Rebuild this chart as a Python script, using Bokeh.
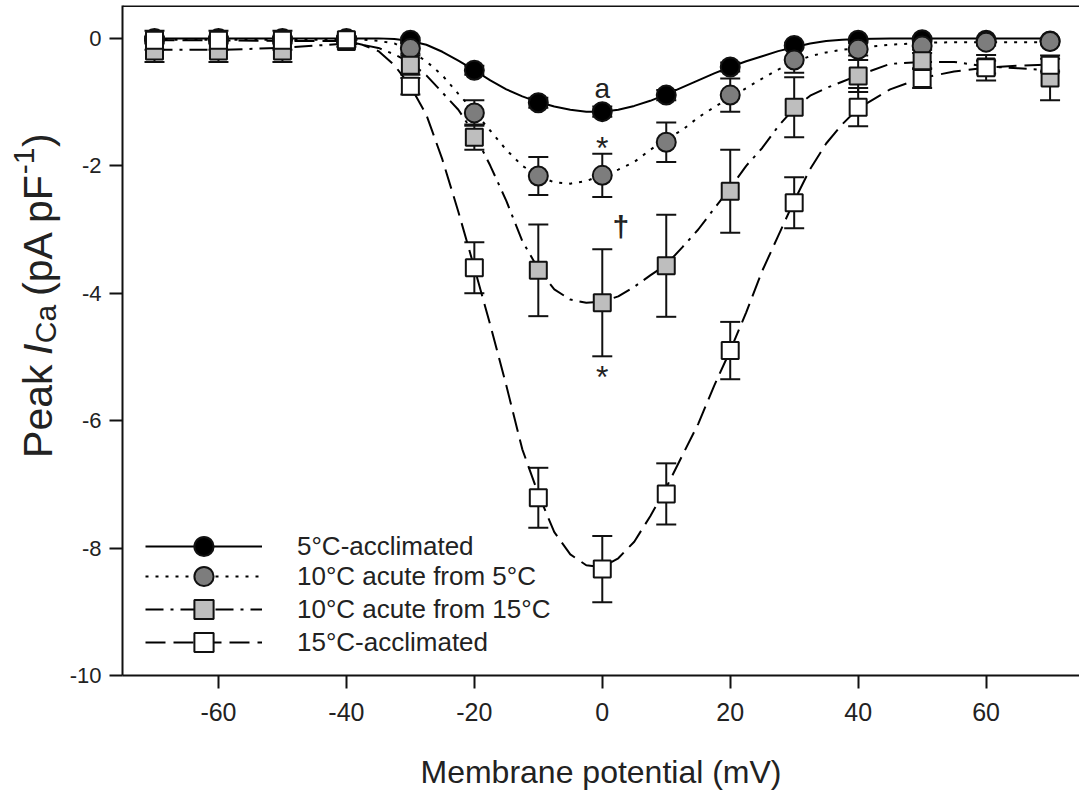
import math
from bokeh.plotting import figure
from bokeh.layouts import row
from bokeh.models import (Range1d, FixedTicker, Whisker, TeeHead, ColumnDataSource,
                          Legend, LegendItem, Label, Span)
from bokeh.core.properties import value
from bokeh.embed import file_html
from bokeh.resources import INLINE

# ---------------- data ----------------
volt = [-70, -60, -50, -40, -30, -20, -10, 0, 10, 20, 30, 40, 50, 60, 70]

acc5_mean = [0.0, 0.0, 0.0, 0.0, -0.03, -0.5, -1.01, -1.15, -0.89, -0.45, -0.11, -0.03, -0.02, -0.03, -0.04]
acc5_err = [0.03, 0.03, 0.03, 0.03, 0.04, 0.07, 0.08, 0.08, 0.08, 0.07, 0.04, 0.03, 0.03, 0.03, 0.03]

acute5_mean = [-0.03, -0.03, -0.03, -0.02, -0.16, -1.17, -2.16, -2.15, -1.63, -0.89, -0.34, -0.17, -0.12, -0.06, -0.05]
acute5_err = [0.05, 0.05, 0.05, 0.04, 0.08, 0.2, 0.3, 0.34, 0.31, 0.26, 0.2, 0.1, 0.06, 0.05, 0.04]

acute15_mean = [-0.2, -0.2, -0.2, -0.05, -0.42, -1.55, -3.64, -4.15, -3.57, -2.4, -1.08, -0.59, -0.35, -0.45, -0.62]
acute15_err = [0.17, 0.17, 0.17, 0.08, 0.15, 0.2, 0.72, 0.84, 0.8, 0.65, 0.47, 0.25, 0.12, 0.1, 0.35]

acc15_mean = [-0.03, -0.03, -0.03, -0.02, -0.75, -3.6, -7.21, -8.33, -7.15, -4.9, -2.58, -1.08, -0.63, -0.46, -0.42]
acc15_err = [0.15, 0.15, 0.15, 0.05, 0.13, 0.4, 0.47, 0.52, 0.48, 0.45, 0.4, 0.3, 0.15, 0.2, 0.1]

# fitted curves
curve_x = [-70, -60, -50, -40, -37.5, -35, -32.5, -30, -27.5, -25, -22.5, -20, -17.5, -15, -12.5,
           -10, -7.5, -5, -2.5, 0, 2.5, 5, 7.5, 10, 12.5, 15, 17.5, 20, 22.5, 25, 27.5, 30,
           32.5, 35, 37.5, 40, 45, 50, 55, 60, 65, 70]
curve_acc5 = [0.0, 0.0, 0.0, 0.0, 0.0, 0.0, -0.01, -0.04, -0.1, -0.21, -0.35, -0.5, -0.66, -0.8, -0.91,
              -1.0, -1.07, -1.12, -1.15, -1.15, -1.12, -1.06, -0.98, -0.88, -0.77, -0.66, -0.55, -0.45,
              -0.36, -0.28, -0.2, -0.14, -0.08, -0.04, -0.02, -0.01, 0.0, 0.0, 0.0, 0.0, 0.0, 0.0]
curve_acute5 = [-0.02, -0.02, -0.02, -0.02, -0.02, -0.04, -0.08, -0.2, -0.36, -0.58, -0.87, -1.15, -1.45,
                -1.75, -2.0, -2.16, -2.26, -2.28, -2.24, -2.14, -2.06, -1.94, -1.75, -1.58, -1.44, -1.24,
                -1.08, -0.93, -0.78, -0.63, -0.49, -0.37, -0.28, -0.22, -0.18, -0.15, -0.1, -0.07, -0.06,
                -0.06, -0.06, -0.06]
curve_acute15 = [-0.18, -0.18, -0.15, -0.08, -0.1, -0.15, -0.25, -0.38, -0.58, -0.85, -1.12, -1.5, -2.0,
                 -2.55, -3.18, -3.62, -3.94, -4.1, -4.15, -4.13, -4.05, -3.9, -3.72, -3.55, -3.28, -3.0,
                 -2.67, -2.35, -2.0, -1.72, -1.38, -1.1, -0.9, -0.78, -0.68, -0.58, -0.4, -0.37, -0.37,
                 -0.44, -0.47, -0.5]
curve_acc15 = [-0.03, -0.03, -0.04, -0.04, -0.1, -0.2, -0.42, -0.75, -1.2, -1.9, -2.72, -3.6, -4.5,
               -5.45, -6.45, -7.15, -7.75, -8.1, -8.27, -8.3, -8.16, -7.9, -7.5, -7.05, -6.55, -6.05,
               -5.45, -4.9, -4.3, -3.65, -3.1, -2.55, -2.05, -1.65, -1.35, -1.1, -0.8, -0.62, -0.52,
               -0.46, -0.43, -0.41]

series_names = ["5°C-acclimated", "10°C acute from 5°C", "10°C acute from 15°C", "15°C-acclimated"]
x_ticks = [-60, -40, -20, 0, 20, 40, 60]
x_tick_labels = ["-60", "-40", "-20", "0", "20", "40", "60"]
y_ticks = [-10, -8, -6, -4, -2, 0]
y_tick_labels = ["-10", "-8", "-6", "-4", "-2", "0"]

FONT = "Liberation Sans"
TXT = "#222222"
INK = "#111111"
W, H = 1079, 792
LW = 64  # width of the strip holding the y-axis title

p = figure(width=W - LW, height=H, output_backend="svg", toolbar_location=None,
           x_range=Range1d(-75, 74.6), y_range=Range1d(-10, 0.516),
           min_border_left=122 - LW, min_border_right=0, min_border_top=5, min_border_bottom=114)
p.outline_line_color = None
p.grid.visible = False

for ax in (p.xaxis, p.yaxis):
    ax.axis_line_width = 2
    ax.axis_line_color = INK
    ax.major_tick_line_width = 2
    ax.major_tick_line_color = INK
    ax.major_tick_in = 0
    ax.major_tick_out = 13
    ax.minor_tick_line_color = None
    ax.major_label_text_font = FONT
    ax.major_label_text_color = TXT

p.xaxis.ticker = FixedTicker(ticks=x_ticks)
p.yaxis.ticker = FixedTicker(ticks=y_ticks)
p.xaxis.major_label_overrides = dict(zip(x_ticks, x_tick_labels))
p.yaxis.major_label_overrides = dict(zip(y_ticks, y_tick_labels))
p.xaxis.major_label_text_font_size = "25px"
p.yaxis.major_label_text_font_size = "22px"
p.xaxis.major_label_standoff = 14
p.yaxis.major_label_standoff = 8
p.xaxis.axis_label = "Membrane potential (mV)"
p.xaxis.axis_label_text_font = FONT
p.xaxis.axis_label_text_font_size = "32px"
p.xaxis.axis_label_text_font_style = "normal"
p.xaxis.axis_label_text_color = TXT
p.xaxis.axis_label_standoff = 30

p.add_layout(Span(location=0.516, dimension="width", line_color=INK, line_width=3))

# curves
dashes = ["solid", "3 7", "18 7 3 7", "20 8"]
curves = [curve_acc5, curve_acute5, curve_acute15, curve_acc15]
line_rs = []
for cy, dsh in zip(curves, dashes):
    line_rs.append(p.line(curve_x, cy, line_color="black", line_width=2, line_dash=dsh))

means = [acc5_mean, acute5_mean, acute15_mean, acc15_mean]
errs = [acc5_err, acute5_err, acute15_err, acc15_err]
fills = ["black", "#7d7d7d", "#bebebe", "white"]
markers = ["circle", "circle", "square", "square"]
sizes = [19, 19, 17, 17]

for m, e in zip(means, errs):
    src = ColumnDataSource(dict(x=volt, upper=[a + b for a, b in zip(m, e)],
                                lower=[a - b for a, b in zip(m, e)]))
    p.add_layout(Whisker(source=src, base="x", upper="upper", lower="lower", line_width=2, line_color=INK,
                         upper_head=TeeHead(size=20, line_width=2, line_color=INK),
                         lower_head=TeeHead(size=20, line_width=2, line_color=INK)))

scat_rs = []
for m, f, mk, s in zip(means, fills, markers, sizes):
    scat_rs.append(p.scatter(volt, m, marker=mk, size=s, fill_color=f, line_color=INK, line_width=2))

# one legend per row so rows can sit close together with full-size markers
row_offsets = [105, 75, 42, 9]
for name, l, s, off in zip(series_names, line_rs, scat_rs, row_offsets):
    p.add_layout(Legend(items=[LegendItem(label=name, renderers=[l, s])],
                        location=(23, off), glyph_width=117, glyph_height=48, label_height=48,
                        padding=0, margin=0, label_standoff=35,
                        label_text_font=FONT, label_text_font_size="26px", label_text_color=TXT,
                        border_line_color=None, background_fill_alpha=0))

# significance marks
for tx, ty, t, fs, st in [(0, -0.78, "a", "28px", "normal"), (0, -1.72, "*", "32px", "normal"),
                          (0, -5.32, "*", "32px", "normal"), (2.9, -2.95, "†", "30px", "bold")]:
    p.add_layout(Label(x=tx, y=ty, text=t, text_align="center", text_baseline="middle",
                       text_font=FONT, text_font_size=fs, text_font_style=st, text_color=TXT))

# ---------- y-axis title strip (rich text built from pieces) ----------
# the strip's frame ends 100 px above the bottom of its canvas, so its y range starts at 100
q = figure(width=LW, height=H, output_backend="svg", toolbar_location=None,
           x_range=Range1d(0, LW), y_range=Range1d(100, H), x_axis_type=None, y_axis_type=None,
           min_border=0)
q.outline_line_color = None
q.grid.visible = False

F = 41
mid_x = 37          # centre line of the rotated title (pixels from the left edge)
centre_y = H - 299  # centre of the title along its length (pixels from the bottom)
# (text, size factor, style, shift across the line, advance in em, lead gap in em)
pieces = [("Peak", 1.0, "normal", 0, 2.279, 0.0),
          ("I", 1.0, "italic", 0, 0.278, 0.278),
          ("Ca", 0.75, "normal", 8, 0.958, 0.02),
          ("(pA pF", 1.0, "normal", 0, 3.001, 0.278),
          ("-1", 0.75, "normal", -14, 0.667, 0.02),
          (")", 1.0, "normal", 0, 0.333, 0.02)]
total = sum(pc[4] + pc[5] for pc in pieces) * F
pos = centre_y - total / 2
for t, sf, st, dx, adv, gap in pieces:
    pos += gap * F
    q.text(x=[mid_x + dx], y=[pos + adv * F / 2], text=[t], angle=math.pi / 2, text_align="center",
           text_baseline="middle", text_font=value(FONT), text_font_size=value(f"{int(F * sf)}px"),
           text_font_style=st, text_color=TXT)
    pos += adv * F

layout = row(q, p, spacing=0)
open("out.html", "w").write(file_html(layout, INLINE))
